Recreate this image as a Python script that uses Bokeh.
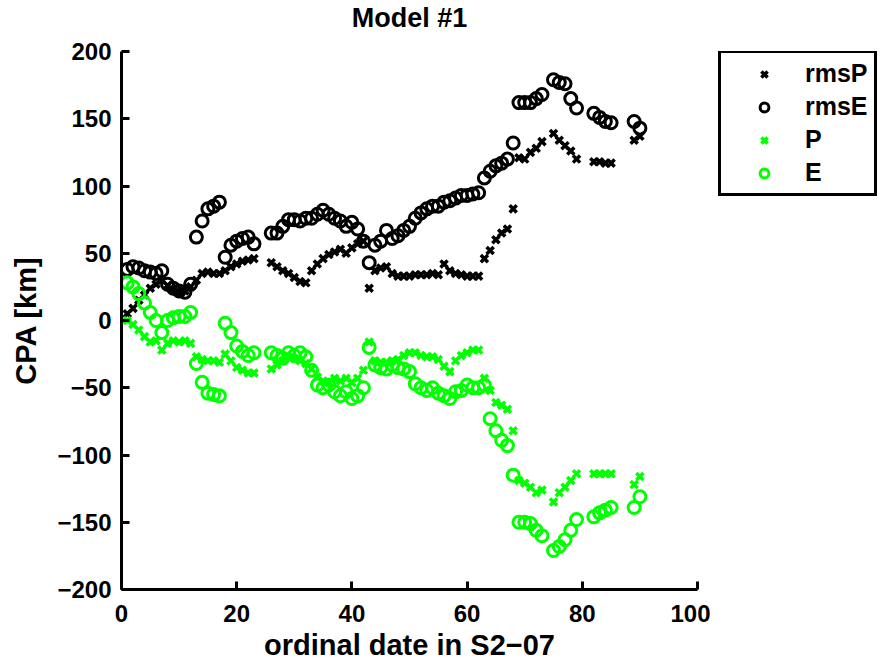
from bokeh.plotting import figure
from bokeh.models import Range1d, FixedTicker, Legend, LegendItem
from bokeh.layouts import row, column
from bokeh.core.properties import value
from bokeh.embed import file_html
from bokeh.resources import INLINE

days = [1, 2, 3, 4, 5, 6, 7, 8, 9, 10, 11, 12, 13, 14, 15, 16, 17, 18, 19, 20, 21, 22, 23,
        26, 27, 28, 29, 30, 31, 32, 33, 34, 35, 36, 37, 38, 39, 40, 41, 42, 43, 44, 45, 46,
        47, 48, 49, 50, 51, 52, 53, 54, 55, 56, 57, 58, 59, 60, 61, 62, 63, 64, 65, 66, 67,
        68, 69, 70, 71, 72, 73, 75, 76, 77, 78, 79, 82, 83, 84, 85, 89, 90]

rmsP = [5, 9, 15, 19, 24, 27, 30, 26, 23, 21, 22, 25, 30, 35, 36, 35, 35, 37, 40, 42, 44, 45, 46,
        43, 40, 37, 35, 32, 29, 28, 37, 42, 46, 49, 51, 53, 50, 54, 57, 59, 24, 37, 39, 40,
        35, 33, 33, 33, 34, 34, 34, 35, 34, 42, 37, 35, 34, 33, 33, 33, 46, 52, 60, 65, 68,
        83, 121, 120, 125, 128, 133, 139, 134, 130, 126, 120, 118, 118, 117, 117, 134, 137]

rmsE = [38, 40, 39, 37, 36, 35, 37, 27, 24, 22, 21, 27, 62, 74, 83, 85, 88, 47, 56, 59, 61, 62, 57,
        65, 65, 70, 75, 75, 74, 76, 76, 79, 82, 79, 76, 74, 70, 73, 68, 59, 43, 56, 59, 67,
        61, 63, 67, 70, 76, 80, 83, 85, 85, 88, 89, 91, 93, 93, 94, 95, 106, 111, 115, 117, 120,
        132, 162, 162, 162, 165, 168, 179, 177, 176, 165, 158, 154, 151, 148, 147, 148, 143]

P = [0, -3, -7, -12, -16, -15, -22, -17, -15, -16, -15, -17, -27, -29, -30, -30, -31, -25, -30, -35, -37, -39, -39,
     -36, -33, -30, -27, -28, -30, -32, -36, -42, -45, -46, -43, -45, -43, -46, -43, -37, -16, -30, -31, -31,
     -30, -29, -26, -24, -24, -26, -27, -27, -29, -34, -38, -30, -26, -24, -22, -22, -43, -52, -61, -63, -66,
     -82, -119, -121, -124, -128, -126, -135, -128, -124, -119, -114, -114, -114, -114, -114, -122, -116]

E = [28, 25, 20, 13, 6, 0, -9, 0, 2, 3, 3, 6, -32, -46, -54, -55, -56, -2, -9, -19, -23, -26, -24,
     -24, -26, -28, -24, -26, -24, -27, -37, -48, -50, -48, -53, -56, -53, -58, -56, -50, -20, -33, -35, -36,
     -33, -35, -36, -38, -47, -50, -52, -50, -54, -56, -58, -53, -52, -48, -50, -50, -48, -73, -82, -89, -93,
     -115, -150, -150, -151, -156, -160, -171, -168, -163, -156, -148, -146, -143, -141, -139, -139, -131]

series_names = ["rmsP", "rmsE", "P", "E"]
title_text = "Model #1"
x_ticks = [0, 20, 40, 60, 80, 100]
y_ticks = [-200, -150, -100, -50, 0, 50, 100, 150, 200]

FONT = "Liberation Sans"
GREEN = "#00FF00"
styles = [("x", "black", 10, 3.5), ("circle", "black", 12, 3),
          ("x", GREEN, 10, 3.5), ("circle", GREEN, 12, 3)]

# title strip
tfig = figure(width=886, height=34, output_backend="svg", toolbar_location=None,
              x_range=Range1d(0, 100), y_range=Range1d(0, 1),
              x_axis_location=None, y_axis_location=None,
              min_border_left=121, min_border_right=189, min_border_top=0, min_border_bottom=0)
tfig.outline_line_color = None
tfig.xgrid.visible = False
tfig.ygrid.visible = False
tfig.text(x=[50], y=[0.5], text=[title_text], text_align="center", text_baseline="middle",
          text_font=value(FONT), text_font_size="27px", text_font_style="bold", text_color="black")

p = figure(width=710, height=629, output_backend="svg", toolbar_location=None,
           x_range=Range1d(0, 100), y_range=Range1d(-200, 200),
           min_border_left=121, min_border_right=13, min_border_top=17, min_border_bottom=73)
p.outline_line_color = None
p.xgrid.visible = False
p.ygrid.visible = False
p.background_fill_color = "white"
p.border_fill_color = "white"

for ax, ticks in ((p.xaxis[0], x_ticks), (p.yaxis[0], y_ticks)):
    ax.ticker = FixedTicker(ticks=ticks)
    ax.axis_line_width = 3
    ax.axis_line_color = "black"
    ax.major_tick_line_width = 3
    ax.major_tick_in = 8
    ax.major_tick_out = 0
    ax.minor_tick_line_color = None
    ax.major_label_text_font = FONT
    ax.major_label_text_font_size = "24px"
    ax.major_label_text_font_style = "bold"
    ax.major_label_text_color = "black"
    ax.axis_label_text_font = FONT
    ax.axis_label_text_font_size = "29px"
    ax.axis_label_text_font_style = "bold"
    ax.axis_label_text_color = "black"

p.xaxis.axis_label = "ordinal date in S2\u221207"
p.yaxis.axis_label = "CPA [km]"
p.xaxis.major_label_standoff = 15
p.yaxis.major_label_standoff = 10
p.xaxis.axis_label_standoff = 4
p.yaxis.axis_label_standoff = 12
p.yaxis.major_label_overrides = {t: str(t).replace("-", "\u2212") for t in y_ticks}

for vals, (mk, col, sz, lw) in zip([rmsP, rmsE, P, E], styles):
    p.scatter(days, vals, marker=mk, size=sz, line_width=lw, line_color=col, fill_color=None)

# legend panel (separate canvas so the box is not clipped by the plot frame)
lg = figure(width=176, height=629, output_backend="svg", toolbar_location=None,
            x_range=Range1d(0, 1), y_range=Range1d(0, 1),
            x_axis_location=None, y_axis_location=None,
            min_border_left=0, min_border_right=0, min_border_top=0, min_border_bottom=0)
lg.outline_line_color = None
lg.xgrid.visible = False
lg.ygrid.visible = False
lg.border_fill_color = "white"

items = []
for name, (mk, col, sz, lw) in zip(series_names, styles):
    r = lg.scatter([-10], [-10], marker=mk, size=sz, line_width=lw, line_color=col, fill_color=None)
    items.append(LegendItem(label=name, renderers=[r]))

legend = Legend(items=items, location=(8, 393))
legend.border_line_color = "black"
legend.border_line_alpha = 1.0
legend.border_line_width = 3
legend.background_fill_color = "white"
legend.background_fill_alpha = 1
legend.label_text_font = FONT
legend.label_text_font_size = "25px"
legend.label_text_font_style = "bold"
legend.label_text_color = "black"
legend.glyph_width = 74
legend.glyph_height = 22
legend.label_height = 22
legend.spacing = 4
legend.padding = 6
legend.label_standoff = 4
legend.margin = 0
lg.add_layout(legend, "center")

layout = column(tfig, row(p, lg, spacing=0), spacing=0)
open("out.html", "w").write(file_html(layout, INLINE))
